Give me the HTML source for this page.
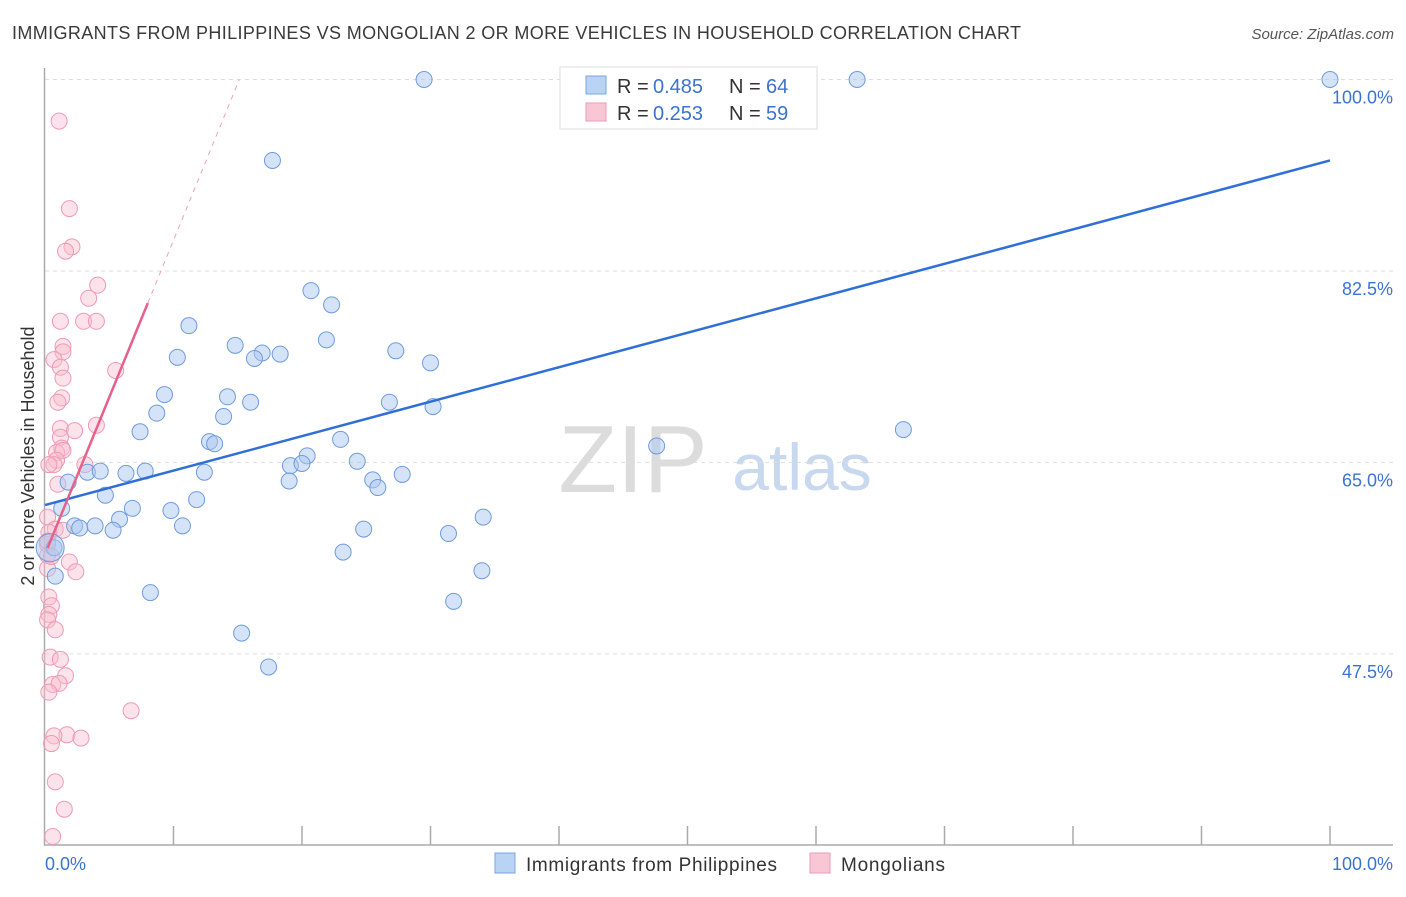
<!DOCTYPE html>
<html><head><meta charset="utf-8"><style>
body{margin:0;background:#fff;font-family:"Liberation Sans",sans-serif;}
svg text{font-family:"Liberation Sans",sans-serif;}
</style></head><body>
<svg id="chart" width="1406" height="892" xmlns="http://www.w3.org/2000/svg">
<text x="12" y="39" font-size="18" fill="#3a3a3a" textLength="1009" lengthAdjust="spacing">IMMIGRANTS FROM PHILIPPINES VS MONGOLIAN 2 OR MORE VEHICLES IN HOUSEHOLD CORRELATION CHART</text>
<text x="1394" y="39" font-size="15" fill="#555" font-style="italic" text-anchor="end">Source: ZipAtlas.com</text>
<text x="633" y="492" font-size="96" fill="#dcdcdc" font-family="Liberation Serif" text-anchor="middle">ZIP</text>
<text x="802" y="490" font-size="66" fill="#c8d8ee" text-anchor="middle">atlas</text>
<g id="grid"></g>
<g id="axes"></g>
<g id="pink"></g>
<g id="blue"></g>
<g id="lines"></g>
<text transform="translate(34,456) rotate(-90)" font-size="18" fill="#333" text-anchor="middle">2 or more Vehicles in Household</text>
<text x="45" y="870" font-size="18" fill="#3b73d1">0.0%</text>
<text x="1393" y="870" font-size="18" fill="#3b73d1" text-anchor="end">100.0%</text>
<g>
<rect x="560" y="67" width="257" height="62" fill="#fff" stroke="#ddd"/>
<rect x="586" y="76" width="20" height="18" fill="#b9d3f5" stroke="#7ba6e0"/>
<rect x="586" y="103" width="20" height="18" fill="#f9c6d5" stroke="#ee9ab3"/>
<text x="617" y="93" font-size="20" fill="#333">R = </text>
<text x="653" y="93" font-size="20" fill="#3b73d1">0.485</text>
<text x="729" y="93" font-size="20" fill="#333">N = </text>
<text x="766" y="93" font-size="20" fill="#3b73d1">64</text>
<text x="617" y="120" font-size="20" fill="#333">R = </text>
<text x="653" y="120" font-size="20" fill="#3b73d1">0.253</text>
<text x="729" y="120" font-size="20" fill="#333">N = </text>
<text x="766" y="120" font-size="20" fill="#3b73d1">59</text>
</g>
<g>
<rect x="495" y="853" width="20" height="20" fill="#b9d3f5" stroke="#7ba6e0"/>
<text x="526" y="871" font-size="19" fill="#333" textLength="251" lengthAdjust="spacing">Immigrants from Philippines</text>
<rect x="810" y="853" width="20" height="20" fill="#f9c6d5" stroke="#ee9ab3"/>
<text x="841" y="871" font-size="19" fill="#333" textLength="104" lengthAdjust="spacing">Mongolians</text>
</g>
</svg>
<script>
const yTicks=[100,82.5,65,47.5];
const yTickLabels=["100.0%","82.5%","65.0%","47.5%"];
const blueX=[29.5,63.2,100,17.7,20.7,22.3,11.2,21.9,14.8,10.3,16.9,16.3,18.3,27.3,30.0,9.3,14.2,16.0,8.7,13.9,26.8,30.2,7.4,12.8,13.2,23.0,47.6,66.8,20.4,24.3,19.1,20.0,3.3,4.3,6.3,7.8,12.4,19.0,25.5,25.9,27.8,1.8,4.7,11.8,6.8,9.8,1.3,5.8,2.3,2.7,3.9,5.3,10.7,24.8,31.4,34.1,23.2,0.7,0.8,34.0,8.2,31.8,15.3,17.4];
const blueY=[100,100,100,92.6,80.7,79.4,77.5,76.2,75.7,74.6,75.0,74.5,74.9,75.2,74.1,71.2,71.0,70.5,69.5,69.2,70.5,70.1,67.8,66.9,66.7,67.1,66.5,68.0,65.6,65.1,64.7,64.9,64.1,64.2,64.0,64.2,64.1,63.3,63.4,62.7,63.9,63.2,62.0,61.6,60.8,60.6,60.8,59.8,59.2,59.0,59.2,58.8,59.2,58.9,58.5,60.0,56.8,57.2,54.6,55.1,53.1,52.3,49.4,46.3];
const pinkX=[1.1,1.9,2.1,1.6,4.1,3.4,1.2,3.0,4.0,1.4,1.4,0.7,1.2,5.5,1.4,1.3,1.0,4.0,1.2,2.3,1.2,1.3,0.9,1.4,0.9,3.1,0.7,0.3,1.0,0.2,0.8,1.4,0.3,0.2,0.2,1.9,2.4,0.2,0.3,0.5,0.3,0.2,0.8,0.4,1.2,1.6,0.6,1.1,0.3,6.7,1.7,2.8,0.7,0.5,0.8,1.5,0.6,0.5,0.2];
const pinkY=[96.2,88.2,84.7,84.3,81.2,80.0,77.9,77.9,77.9,75.6,75.1,74.4,73.7,73.4,72.7,70.9,70.5,68.4,68.1,67.9,67.3,66.3,65.9,66.1,65.2,64.8,64.8,64.8,63.0,60.0,58.9,58.8,58.6,57.5,56.5,55.9,55.0,55.3,52.7,51.9,51.1,50.6,49.7,47.2,47.0,45.5,44.7,44.8,44.0,42.3,40.1,39.8,40.0,39.3,35.8,33.3,30.8,56.4,57.8];
const blueTrend=[61.1,92.6];
const pinkTrend=[56.6,2.87];
const NS="http://www.w3.org/2000/svg";
const X=v=>45+v*12.85, Y=v=>79.5+(100-v)*10.94;
function mk(t,a,p){const e=document.createElementNS(NS,t);for(const k in a)e.setAttribute(k,a[k]);p.appendChild(e);return e;}
const grid=document.getElementById('grid'),axes=document.getElementById('axes');
yTicks.forEach((t,i)=>{
 const l=mk('line',{x1:45,x2:1393,y1:Y(t),y2:Y(t),stroke:'#ddd','stroke-dasharray':'4,4'},grid);
 
 
 const tx=mk('text',{x:1393,y:Y(t)+24,'font-size':18,fill:'#3b73d1','text-anchor':'end'},grid);
 tx.textContent=yTickLabels[i];
 
 
});
const ya=mk('line',{x1:44.5,x2:44.5,y1:68,y2:845,stroke:'#aaa','stroke-width':1.5},axes);


const xa=mk('line',{x1:44,x2:1393,y1:845,y2:845,stroke:'#aaa','stroke-width':1.5},axes);


for(let i=1;i<=10;i++){const t=mk('line',{x1:X(i*10),x2:X(i*10),y1:826,y2:845,stroke:'#aaa','stroke-width':1.5},axes);
 
 }
const pg=document.getElementById('pink'),bg=document.getElementById('blue');
pinkX.forEach((x,i)=>{const c=mk('circle',{cx:X(x),cy:Y(pinkY[i]),r:8,fill:'rgba(249,190,208,0.45)',stroke:'#ee9ab3','stroke-width':1},pg);
 
 });
blueX.forEach((x,i)=>{const c=mk('circle',{cx:X(x),cy:Y(blueY[i]),r:8,fill:'rgba(170,200,240,0.5)',stroke:'#6f9bdc','stroke-width':1},bg);
 
 });
const big=mk('circle',{cx:X(0.4),cy:Y(57.2),r:14,fill:'rgba(170,200,240,0.5)',stroke:'#6f9bdc'},bg);


const lg=document.getElementById('lines');
const bl=mk('line',{x1:X(0),y1:Y(blueTrend[0]),x2:X(100),y2:Y(blueTrend[1]),stroke:'#2f6fd6','stroke-width':2.5},lg);


const pe=(100-pinkTrend[0])/pinkTrend[1];
const pd=mk('line',{x1:X(8),y1:Y(pinkTrend[0]+8*pinkTrend[1]),x2:X(pe),y2:Y(100),stroke:'#f0a0b8','stroke-width':1,'stroke-dasharray':'5,5'},lg);


const pl=mk('line',{x1:X(0.2),y1:Y(pinkTrend[0]+0.2*pinkTrend[1]),x2:X(8),y2:Y(pinkTrend[0]+8*pinkTrend[1]),stroke:'#e8608a','stroke-width':2.5},lg);


</script>
</body></html>
